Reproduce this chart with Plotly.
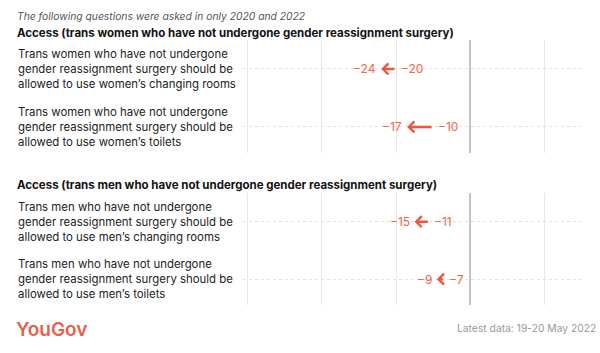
import plotly.graph_objects as go

# ---- data ----
subtitle = "The following questions were asked in only 2020 and 2022"
panel_titles = [
    "Access (trans women who have not undergone gender reassignment surgery)",
    "Access (trans men who have not undergone gender reassignment surgery)",
]
panel_questions = [
    [
        "Trans women who have not undergone<br>gender reassignment surgery should be<br>allowed to use women’s changing rooms",
        "Trans women who have not undergone<br>gender reassignment surgery should be<br>allowed to use women’s toilets",
    ],
    [
        "Trans men who have not undergone<br>gender reassignment surgery should be<br>allowed to use men’s changing rooms",
        "Trans men who have not undergone<br>gender reassignment surgery should be<br>allowed to use men’s toilets",
    ],
]
values_2020 = [[-20, -10], [-11, -7]]
values_2022 = [[-24, -17], [-15, -9]]
x_ticks = [-60, -40, -20, 0, 20]
x_range = [-61.3, 31]
source_text = "Latest data: 19-20 May 2022"
brand = "YouGov"

ARROW = "#f0553b"
LABEL = "#f2644d"
FONT = "Inter"

fig = go.Figure()

domains_y = [[1 - 153 / 353, 1 - 40 / 353], [1 - 305 / 353, 1 - 193 / 353]]
row_pos = [1, 0]
y_range = [-0.45, 1.5]

annotations = []
for p in range(2):
    xa = "x" if p == 0 else "x2"
    ya = "y" if p == 0 else "y2"
    # invisible trace to anchor axes
    fig.add_trace(go.Scatter(x=values_2020[p] + values_2022[p], y=row_pos + row_pos,
                             mode="markers", marker=dict(opacity=0), hoverinfo="skip",
                             showlegend=False, xaxis=xa, yaxis=ya))
    for i in range(2):
        old = values_2020[p][i]
        new = values_2022[p][i]
        y = row_pos[i]
        annotations.append(dict(x=new, y=y, ax=old, ay=y, xref=xa, yref=ya,
                                axref=xa, ayref=ya, text="", showarrow=True,
                                arrowhead=4, arrowsize=0.85, arrowwidth=2.5,
                                arrowcolor=ARROW, standoff=0, startstandoff=0))
        annotations.append(dict(x=new, y=y, xref=xa, yref=ya, text=f"−{abs(new)}",
                                showarrow=False, xanchor="right", xshift=-3,
                                font=dict(family=FONT, size=12, color=LABEL)))
        annotations.append(dict(x=old, y=y, xref=xa, yref=ya, text=f"−{abs(old)}",
                                showarrow=False, xanchor="left", xshift=3,
                                font=dict(family=FONT, size=12, color=LABEL)))
        annotations.append(dict(x=0.026, y=y, xref="paper", yref=ya,
                                text=panel_questions[p][i], showarrow=False,
                                xanchor="left", yanchor="middle", align="left",
                                font=dict(family=FONT, size=11.4, color="#222")))

# titles
annotations.append(dict(x=0.025, y=1 - 16 / 353, xref="paper", yref="paper",
                        text=f"<i>{subtitle}</i>", showarrow=False,
                        xanchor="left", yanchor="middle",
                        font=dict(family=FONT, size=10.3, color="#555")))
annotations.append(dict(x=0.025, y=1 - 33 / 353, xref="paper", yref="paper",
                        text=f"<b>{panel_titles[0]}</b>", showarrow=False,
                        xanchor="left", yanchor="middle",
                        font=dict(family=FONT, size=11.5, color="#111")))
annotations.append(dict(x=0.025, y=1 - 185 / 353, xref="paper", yref="paper",
                        text=f"<b>{panel_titles[1]}</b>", showarrow=False,
                        xanchor="left", yanchor="middle",
                        font=dict(family=FONT, size=11.5, color="#111")))
# footer
annotations.append(dict(x=0.023, y=1 - 329 / 353, xref="paper", yref="paper",
                        text=brand, showarrow=False, xanchor="left", yanchor="middle",
                        font=dict(family=FONT, size=19, color="#e8604c", weight=600)))
annotations.append(dict(x=0.997, y=1 - 328 / 353, xref="paper", yref="paper",
                        text=source_text, showarrow=False, xanchor="right", yanchor="middle",
                        font=dict(family=FONT, size=10.3, color="#999")))

xaxis_common = dict(range=x_range, domain=[243 / 600, 585 / 600], tickvals=x_ticks,
                    showticklabels=False, showgrid=True, gridcolor="#e8e8e8", gridwidth=1,
                    zeroline=True, zerolinecolor="#c4c4c4", zerolinewidth=2,
                    showline=False, fixedrange=True)
yaxis_common = dict(range=y_range, tickvals=row_pos, showticklabels=False,
                    showgrid=True, gridcolor="#e2e2e2", gridwidth=1, griddash="dot",
                    zeroline=False, showline=False, fixedrange=True)

fig.update_layout(
    width=600, height=353,
    margin=dict(l=0, r=0, t=0, b=0),
    paper_bgcolor="white", plot_bgcolor="white",
    xaxis=dict(**xaxis_common, anchor="y"),
    xaxis2=dict(**xaxis_common, anchor="y2"),
    yaxis=dict(**yaxis_common, domain=domains_y[0], anchor="x"),
    yaxis2=dict(**yaxis_common, domain=domains_y[1], anchor="x2"),
    annotations=annotations,
    showlegend=False,
)

fig.write_html("out.html")
